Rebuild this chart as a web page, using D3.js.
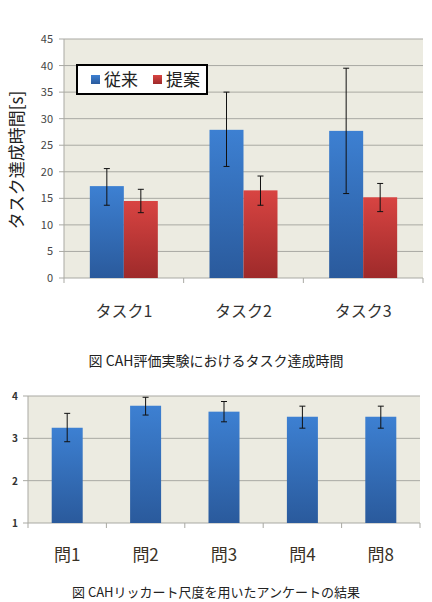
<!DOCTYPE html>
<html>
<head>
<meta charset="utf-8">
<script src="https://d3js.org/d3.v7.min.js"></script>
<style>
  body { margin: 0; background: #fff; }
  svg text { font-family: "Noto Sans CJK JP", "Noto Sans", sans-serif; }
</style>
</head>
<body>
<svg id="my_svg" width="432" height="602"></svg>
<script>
// top chart: task completion time
const tasks = ["タスク1", "タスク2", "タスク3"]
const seriesNames = ["従来", "提案"]
const conventional = [17.3, 27.9, 27.7]
const conventionalLow = [13.7, 21.0, 15.9]
const conventionalHigh = [20.6, 35.0, 39.5]
const proposed = [14.5, 16.5, 15.2]
const proposedLow = [12.3, 13.7, 12.5]
const proposedHigh = [16.7, 19.2, 17.8]
const topTicks = [0, 5, 10, 15, 20, 25, 30, 35, 40, 45]

// bottom chart: likert questionnaire
const questions = ["問1", "問2", "問3", "問4", "問8"]
const likert = [3.25, 3.77, 3.63, 3.51, 3.51]
const likertLow = [2.92, 3.55, 3.39, 3.24, 3.24]
const likertHigh = [3.59, 3.97, 3.87, 3.76, 3.76]
const bottomTicks = [1, 2, 3, 4]

const svg = d3.select("#my_svg")
const defs = svg.append("defs")

function grad(id, c1, c2) {
  const g = defs.append("linearGradient").attr("id", id)
    .attr("x1", 0).attr("y1", 0).attr("x2", 0).attr("y2", 1)
  g.append("stop").attr("offset", "0%").attr("stop-color", c1)
  g.append("stop").attr("offset", "100%").attr("stop-color", c2)
}
grad("blue", "#3d80d2", "#2a5a9c")
grad("red", "#d84442", "#9e2a2a")

const bg = "#ecebe1"
const gridColor = "#a9a9a3"

// ---------- top chart ----------
const t = { left: 64, right: 423, top: 39, bottom: 278 }
const x0 = d3.scaleBand().domain(tasks).range([t.left, t.right]).paddingInner(0).paddingOuter(0)
const x1 = d3.scaleBand().domain(seriesNames).range([0, x0.bandwidth()]).paddingInner(0).paddingOuter(0.76)
const yTop = d3.scaleLinear().domain([0, 45]).range([t.bottom, t.top])

svg.append("rect").attr("x", t.left).attr("y", t.top)
  .attr("width", t.right - t.left).attr("height", t.bottom - t.top).attr("fill", bg)

// grid
svg.append("g").selectAll("line").data(topTicks).enter().append("line")
  .attr("x1", t.left - 5).attr("x2", t.right)
  .attr("y1", d => yTop(d)).attr("y2", d => yTop(d))
  .attr("stroke", gridColor).attr("stroke-width", 1)

svg.append("g").selectAll("text").data(topTicks).enter().append("text")
  .attr("x", 53).attr("y", d => yTop(d) + 4)
  .attr("text-anchor", "end").attr("font-size", 11).attr("fill", "#444")
  .text(d => d)

// y axis line
svg.append("line").attr("x1", t.left).attr("x2", t.left).attr("y1", t.top).attr("y2", t.bottom + 5)
  .attr("stroke", gridColor)
// x ticks at category boundaries
const topBounds = tasks.map(d => x0(d) + x0.bandwidth())
svg.append("g").selectAll("line").data(topBounds).enter().append("line")
  .attr("x1", d => d).attr("x2", d => d).attr("y1", t.bottom).attr("y2", t.bottom + 5)
  .attr("stroke", gridColor)

const topData = []
tasks.forEach((task, i) => {
  topData.push({ task, s: "従来", v: conventional[i], lo: conventionalLow[i], hi: conventionalHigh[i], fill: "url(#blue)" })
  topData.push({ task, s: "提案", v: proposed[i], lo: proposedLow[i], hi: proposedHigh[i], fill: "url(#red)" })
})

svg.append("g").selectAll("rect").data(topData).enter().append("rect")
  .attr("x", d => x0(d.task) + x1(d.s))
  .attr("y", d => yTop(d.v))
  .attr("width", x1.bandwidth())
  .attr("height", d => yTop(0) - yTop(d.v))
  .attr("fill", d => d.fill)

function errorBars(g, data, xf, ys, cap) {
  const e = g.append("g").attr("stroke", "#111").attr("stroke-width", 1)
  e.selectAll(".v").data(data).enter().append("line")
    .attr("x1", xf).attr("x2", xf).attr("y1", d => ys(d.lo)).attr("y2", d => ys(d.hi))
  e.selectAll(".t").data(data).enter().append("line")
    .attr("x1", d => xf(d) - cap).attr("x2", d => xf(d) + cap).attr("y1", d => ys(d.hi)).attr("y2", d => ys(d.hi))
  e.selectAll(".b").data(data).enter().append("line")
    .attr("x1", d => xf(d) - cap).attr("x2", d => xf(d) + cap).attr("y1", d => ys(d.lo)).attr("y2", d => ys(d.lo))
}
errorBars(svg, topData, d => x0(d.task) + x1(d.s) + x1.bandwidth() / 2, yTop, 3)

svg.append("g").selectAll("text").data(tasks).enter().append("text")
  .attr("x", d => x0(d) + x0.bandwidth() / 2).attr("y", 317)
  .attr("text-anchor", "middle").attr("font-size", 16).attr("fill", "#333")
  .text(d => d)

// y title
svg.append("text").attr("transform", "translate(23,160) rotate(-90)")
  .attr("text-anchor", "middle").attr("font-size", 17).attr("fill", "#222")
  .text("タスク達成時間[s]")

// legend
const lg = svg.append("g")
lg.append("rect").attr("x", 77).attr("y", 65).attr("width", 130).attr("height", 29)
  .attr("fill", "#fff").attr("stroke", "#000").attr("stroke-width", 2)
const legendItems = [{ name: "従来", fill: "url(#blue)", x: 91 }, { name: "提案", fill: "url(#red)", x: 153 }]
legendItems.forEach(d => {
  lg.append("rect").attr("x", d.x).attr("y", 75).attr("width", 9).attr("height", 9).attr("fill", d.fill)
  lg.append("text").attr("x", d.x + 13).attr("y", 86).attr("font-size", 17).attr("fill", "#222").text(d.name)
})

svg.append("text").attr("x", 216).attr("y", 366).attr("text-anchor", "middle")
  .attr("font-size", 14).attr("fill", "#222")
  .text("図 CAH評価実験におけるタスク達成時間")

// ---------- bottom chart ----------
const b = { left: 28, right: 420, top: 396, bottom: 523 }
const xbCat = d3.scaleBand().domain(questions).range([b.left, b.right])
const yb = d3.scaleLinear().domain([1, 4]).range([b.bottom, b.top])

svg.append("rect").attr("x", b.left).attr("y", b.top)
  .attr("width", b.right - b.left).attr("height", b.bottom - b.top).attr("fill", bg)
svg.append("g").selectAll("line").data(bottomTicks).enter().append("line")
  .attr("x1", b.left - 5).attr("x2", b.right)
  .attr("y1", d => yb(d)).attr("y2", d => yb(d))
  .attr("stroke", gridColor)
svg.append("g").selectAll("text").data(bottomTicks).enter().append("text")
  .attr("x", 18).attr("y", d => yb(d) + 4)
  .attr("text-anchor", "end").attr("font-size", 10).attr("font-weight", "bold").attr("fill", "#333")
  .text(d => d)
svg.append("line").attr("x1", b.left).attr("x2", b.left).attr("y1", b.top).attr("y2", b.bottom + 5)
  .attr("stroke", gridColor)
svg.append("g").selectAll("line").data(questions.map(d => xbCat(d) + xbCat.bandwidth())).enter().append("line")
  .attr("x1", d => d).attr("x2", d => d).attr("y1", b.bottom).attr("y2", b.bottom + 5)
  .attr("stroke", gridColor)

const bottomData = questions.map((q, i) => ({ q, v: likert[i], lo: likertLow[i], hi: likertHigh[i] }))
svg.append("g").selectAll("rect").data(bottomData).enter().append("rect")
  .attr("x", d => xbCat(d.q) + xbCat.bandwidth() / 2 - 15.5)
  .attr("y", d => yb(d.v))
  .attr("width", 31)
  .attr("height", d => yb(1) - yb(d.v))
  .attr("fill", "url(#blue)")
errorBars(svg, bottomData, d => xbCat(d.q) + xbCat.bandwidth() / 2, yb, 3)

svg.append("g").selectAll("text").data(questions).enter().append("text")
  .attr("x", d => xbCat(d) + xbCat.bandwidth() / 2).attr("y", 561)
  .attr("text-anchor", "middle").attr("font-size", 17).attr("fill", "#3a3226")
  .text(d => d)

svg.append("text").attr("x", 216).attr("y", 597).attr("text-anchor", "middle")
  .attr("font-size", 13).attr("fill", "#222")
  .text("図 CAHリッカート尺度を用いたアンケートの結果")
</script>
</body>
</html>
